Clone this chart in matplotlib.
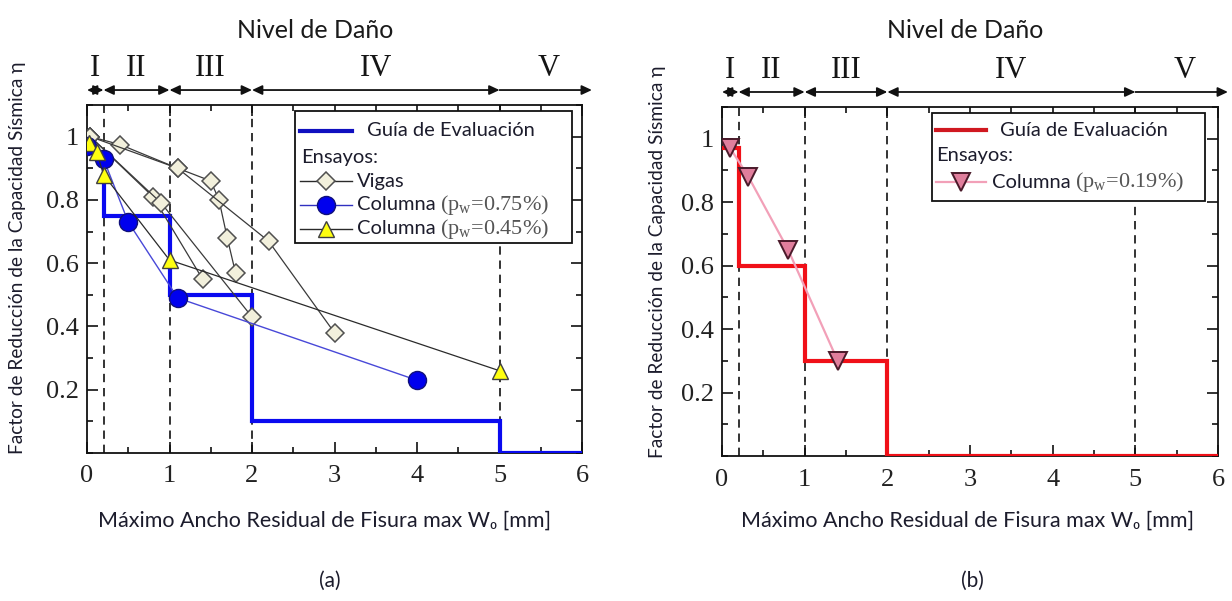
import matplotlib
matplotlib.use("Agg")
import matplotlib.pyplot as plt
from matplotlib.patches import Rectangle
from matplotlib.lines import Line2D
from matplotlib.ticker import MultipleLocator, FixedLocator, FixedFormatter

# ---------------- data ----------------
levels = ["I", "II", "III", "IV", "V"]
level_bounds = [0.0, 0.2, 1.0, 2.0, 5.0]
level_centers = [0.1, 0.6, 1.5, 3.5, 5.6]

# evaluation guide (step functions)
guide_a_x = [0.0, 0.2, 0.2, 1.0, 1.0, 2.0, 2.0, 5.0, 5.0, 6.0]
guide_a_y = [0.95, 0.95, 0.75, 0.75, 0.5, 0.5, 0.1, 0.1, 0.0, 0.0]
guide_b_x = [0.0, 0.2, 0.2, 1.0, 1.0, 2.0, 2.0, 6.0]
guide_b_y = [0.97, 0.97, 0.6, 0.6, 0.3, 0.3, 0.0, 0.0]

# beam tests
vigas_1_x = [0.04, 0.4, 1.1, 1.5, 1.6, 1.7, 1.8]
vigas_1_y = [1.0, 0.975, 0.90, 0.86, 0.80, 0.68, 0.57]
vigas_2_x = [0.04, 1.1, 2.2, 3.0]
vigas_2_y = [1.0, 0.90, 0.67, 0.38]
vigas_3_x = [0.04, 0.8, 1.4]
vigas_3_y = [1.0, 0.81, 0.55]
vigas_4_x = [0.04, 0.9, 2.0]
vigas_4_y = [1.0, 0.79, 0.43]

# column tests
col75_x = [0.0, 0.2, 0.5, 1.1, 4.0]
col75_y = [0.97, 0.93, 0.73, 0.49, 0.23]
col45_x = [0.03, 0.12, 0.2, 1.0, 5.0]
col45_y = [0.98, 0.95, 0.88, 0.61, 0.26]
col19_x = [0.1, 0.32, 0.8, 1.4]
col19_y = [0.97, 0.88, 0.65, 0.30]

xticks = [0, 1, 2, 3, 4, 5, 6]
yticks = [0.2, 0.4, 0.6, 0.8, 1.0]
ytick_labels = ["0.2", "0.4", "0.6", "0.8", "1"]

# ---------------- styles ----------------
SANS = ["Lato", "DejaVu Sans"]
SERIF = ["Liberation Serif", "DejaVu Serif"]
TXT = "#1c1c2c"
BLUE = "#0a0af0"
RED = "#f01018"

W, H = 1232, 601
fig = plt.figure(figsize=(W / 100, H / 100), dpi=100)


def fx(px):
    return px / W


def fy(py):
    return 1 - py / H


ax_a = fig.add_axes([fx(87), fy(453), fx(582) - fx(87), fy(105) - fy(453)])
ax_b = fig.add_axes([fx(722), fy(456), fx(1218) - fx(722), fy(107) - fy(456)])


def style_axes(ax):
    ax.set_xlim(0, 6)
    ax.set_ylim(0, 1.1)
    ax.xaxis.set_major_locator(FixedLocator(xticks))
    ax.xaxis.set_minor_locator(MultipleLocator(0.5))
    ax.yaxis.set_major_locator(FixedLocator(yticks))
    ax.yaxis.set_major_formatter(FixedFormatter(ytick_labels))
    ax.yaxis.set_minor_locator(MultipleLocator(0.1))
    ax.tick_params(which="both", direction="in", top=True, right=True,
                   width=1.2, colors="#111111")
    ax.tick_params(which="major", length=8)
    ax.tick_params(which="minor", length=4)
    ax.tick_params(axis="x", which="major", pad=9)
    ax.tick_params(axis="y", which="major", pad=6)
    for lab in ax.get_xticklabels() + ax.get_yticklabels():
        lab.set_fontfamily(SERIF)
        lab.set_fontsize(19)
        lab.set_color("#222222")
    for sp in ax.spines.values():
        sp.set_linewidth(1.3)
        sp.set_color("#111111")
    # damage level boundaries
    for xb in level_bounds[1:]:
        ax.axvline(xb, color="#111111", lw=1.2, dashes=(5, 3.5), zorder=1)
    # damage level band above the axes
    for i in range(len(level_bounds)):
        x0 = level_bounds[i]
        if i + 1 < len(level_bounds):
            x1, style = level_bounds[i + 1], "<|-|>,head_length=0.6,head_width=0.28"
        else:
            x1, style = 6.12, "<|-,head_length=0.6,head_width=0.28"
        ax.annotate("", xy=(x0, 1.043), xytext=(x1, 1.043),
                    xycoords=("data", "axes fraction"),
                    textcoords=("data", "axes fraction"),
                    arrowprops=dict(arrowstyle=style, color="#111111", lw=1.3,
                                    shrinkA=0, shrinkB=0),
                    annotation_clip=False)
    for name, xc in zip(levels, level_centers):
        ax.text(xc, 1.105, name, transform=ax.get_xaxis_transform(),
                ha="center", va="center", fontsize=22, family=SERIF,
                color="#151515", clip_on=False)


style_axes(ax_a)
style_axes(ax_b)

# ---------------- panel (a) ----------------
ax_a.plot(guide_a_x, guide_a_y, color=BLUE, lw=3, zorder=3, solid_joinstyle="miter")
vig_kw = dict(color="#3a3a3a", lw=0.9, marker="D", ms=9, mfc="#f2f0dc",
              mec="#505050", mew=1.1, zorder=4)
for vx, vy in [(vigas_1_x, vigas_1_y), (vigas_2_x, vigas_2_y),
               (vigas_3_x, vigas_3_y), (vigas_4_x, vigas_4_y)]:
    ax_a.plot(vx, vy, **vig_kw)
ax_a.plot(col75_x, col75_y, color="#4848d8", lw=1.0, marker="o", ms=13,
          mfc="#0000ee", mec="#10107a", mew=1.0, zorder=5)
ax_a.plot(col45_x, col45_y, color="#2a2a2a", lw=0.9, marker="^", ms=12,
          mfc="#ffff10", mec="#404040", mew=1.0, zorder=6)

# ---------------- panel (b) ----------------
ax_b.plot(guide_b_x, guide_b_y, color=RED, lw=3, zorder=3, solid_joinstyle="miter")
ax_b.plot(col19_x, col19_y, color="#f2a0b8", lw=1.6, marker="v", ms=13,
          mfc="#e07e9c", mec="#4a1a2a", mew=1.4, zorder=5)


# ---------------- legends ----------------
def draw_legend(ax, box, rows, x_handle, x_text, x_head, font=14.5):
    """box in pixel coords (x0, y0, x1, y1); rows: (y, kind, line, marker, label, extra)."""
    bb = ax.get_position()
    ax_x0, ax_x1 = bb.x0 * W, bb.x1 * W
    ax_y0, ax_y1 = (1 - bb.y1) * H, (1 - bb.y0) * H

    def ax_fx(px):
        return (px - ax_x0) / (ax_x1 - ax_x0)

    def ax_fy(py):
        return (ax_y1 - py) / (ax_y1 - ax_y0)

    x0, y0, x1, y1 = box
    ax.add_patch(Rectangle((ax_fx(x0), ax_fy(y1)), ax_fx(x1) - ax_fx(x0),
                           ax_fy(y0) - ax_fy(y1), transform=ax.transAxes,
                           facecolor="white", edgecolor="#111111", lw=1.3,
                           zorder=8, clip_on=False))
    for y, kind, line, mark, label, extra in rows:
        if kind == "head":
            ax.text(ax_fx(x_head), ax_fy(y), label, transform=ax.transAxes,
                    ha="left", va="center", fontsize=font, family=SANS,
                    color=TXT, zorder=10)
            continue
        hx = [ax_fx(x_handle[0]), ax_fx(x_handle[1])]
        ax.add_line(Line2D(hx, [ax_fy(y)] * 2, transform=ax.transAxes,
                           zorder=9, **line))
        if mark:
            ax.add_line(Line2D([sum(hx) / 2], [ax_fy(y)], transform=ax.transAxes,
                               lw=0, zorder=9.5, **mark))
        tx = x_text[0] if kind == "guide" else x_text[1]
        t = ax.text(ax_fx(tx), ax_fy(y), label, transform=ax.transAxes,
                    ha="left", va="center", fontsize=font, family=SANS,
                    color=TXT, zorder=10)
        if extra:
            ax.annotate(extra, xy=(1.0, 0.5), xycoords=t, xytext=(3, 0),
                        textcoords="offset points", ha="left", va="center",
                        fontsize=font + 1.5, family=SERIF, color="#555555",
                        zorder=10)


leg_a_rows = [
    (131, "guide", dict(color="#1010c0", lw=3), None, "Guía de Evaluación", None),
    (157, "head", None, None, "Ensayos:", None),
    (181, "test", dict(color="#2a2a2a", lw=1.0),
     dict(marker="D", ms=9, mfc="#f2f0dc", mec="#505050", mew=1.1), "Vigas", None),
    (205, "test", dict(color="#3030c0", lw=1.0),
     dict(marker="o", ms=13, mfc="#0000ee", mec="#10107a", mew=1.0),
     "Columna", "(p$_{\\mathregular{w}}$=0.75%)"),
    (229, "test", dict(color="#2a2a2a", lw=1.0),
     dict(marker="^", ms=12, mfc="#ffff10", mec="#404040", mew=1.0),
     "Columna", "(p$_{\\mathregular{w}}$=0.45%)"),
]
draw_legend(ax_a, (295, 111, 572, 243), leg_a_rows, (300, 352), (367, 357), 301)

leg_b_rows = [
    (130, "guide", dict(color="#d01820", lw=3), None, "Guía de Evaluación", None),
    (156, "head", None, None, "Ensayos:", None),
    (182, "test", dict(color="#f2a0b8", lw=1.6),
     dict(marker="v", ms=13, mfc="#e07e9c", mec="#4a1a2a", mew=1.4),
     "Columna", "(p$_{\\mathregular{w}}$=0.19%)"),
]
draw_legend(ax_b, (932, 113, 1205, 201), leg_b_rows, (936, 986), (1000, 992), 936)

# ---------------- texts ----------------
for cx in (315, 965):
    fig.text(fx(cx), fy(30), "Nivel de Daño", ha="center", va="center",
             fontsize=18, family=SANS, color="#1a1a1a")
for cx in (325, 968):
    fig.text(fx(cx), fy(521), "Máximo Ancho Residual de Fisura max W\u2080 [mm]",
             ha="center", va="center", fontsize=15.5, family=SANS, color=TXT)
for cx, tag in [(330, "(a)"), (972, "(b)")]:
    fig.text(fx(cx), fy(581), tag, ha="center", va="center",
             fontsize=15, family=SANS, color=TXT)
for cx, cy in [(18, 258), (657, 262)]:
    fig.text(fx(cx), fy(cy), "Factor de Reducción de la Capacidad Sísmica η",
             ha="center", va="center", rotation=90, fontsize=13.8,
             family=SANS, color=TXT)

fig.savefig("out.png", dpi=100)
